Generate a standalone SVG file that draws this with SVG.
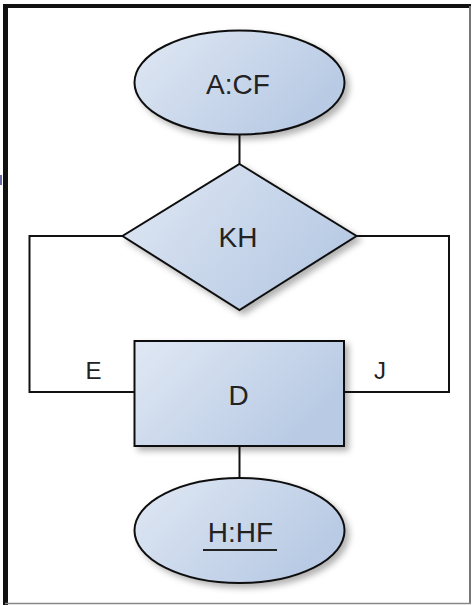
<svg xmlns="http://www.w3.org/2000/svg" width="472" height="605" viewBox="0 0 472 605">
<style>
.shape{fill:url(#g);stroke:#111;stroke-width:2;filter:url(#sh)}
.conn{fill:none;stroke:#111;stroke-width:2}
.t{font-family:"Liberation Sans",Arial,sans-serif;font-size:28px;fill:#222;text-anchor:middle}
.lbl{font-family:"Liberation Sans",Arial,sans-serif;font-size:24px;fill:#222;text-anchor:middle}
</style>
<defs>
<linearGradient id="g" x1="0" y1="0" x2="1" y2="0.5">
<stop offset="0" stop-color="#e0e8f4"/>
<stop offset="1" stop-color="#b8cae4"/>
</linearGradient>
<filter id="sh" x="-20%" y="-20%" width="150%" height="150%">
<feDropShadow dx="4" dy="4" stdDeviation="3" flood-color="#000" flood-opacity="0.3"/>
</filter>
</defs>
<rect x="0" y="0" width="472" height="605" fill="#fff"/>
<g id="frame">
<line x1="3" y1="6" x2="471" y2="6" stroke="#111" stroke-width="4"/>
<line x1="5.5" y1="4" x2="5.5" y2="605" stroke="#111" stroke-width="5"/>
<line x1="470" y1="6" x2="470" y2="604" stroke="#777" stroke-width="2"/>
<line x1="5" y1="603.5" x2="471" y2="603.5" stroke="#888" stroke-width="1.5"/>
<rect x="0" y="175" width="2" height="10" fill="#6a6aa8"/>
</g>
<g id="connectors">
<line class="conn" x1="239.5" y1="134" x2="239.5" y2="165"/>
<polyline class="conn" points="123,236 29.5,236 29.5,392 135,392"/>
<polyline class="conn" points="356,236 449,236 449,392 344,392"/>
<line class="conn" x1="239.5" y1="446" x2="239.5" y2="479"/>
</g>
<g id="A_CF">
<ellipse class="shape" cx="239.5" cy="82.5" rx="105" ry="52"/>
<text class="t" x="238" y="94">A:CF</text>
</g>
<g id="KH">
<polygon class="shape" points="239.5,164 356.5,236 239.5,310 122.5,236"/>
<text class="t" x="238" y="247">KH</text>
</g>
<g id="D">
<rect class="shape" x="134.5" y="341" width="209.5" height="105"/>
<text class="t" x="238.5" y="405">D</text>
</g>
<g id="H_HF">
<ellipse class="shape" cx="239.5" cy="530.5" rx="105" ry="52.5"/>
<text class="t" x="240.5" y="542">H:HF</text>
<line x1="203" y1="550" x2="277" y2="550" stroke="#222" stroke-width="2"/>
</g>
<g id="labels">
<text class="lbl" x="93.5" y="379">E</text>
<text class="lbl" x="380" y="379">J</text>
</g>
</svg>
